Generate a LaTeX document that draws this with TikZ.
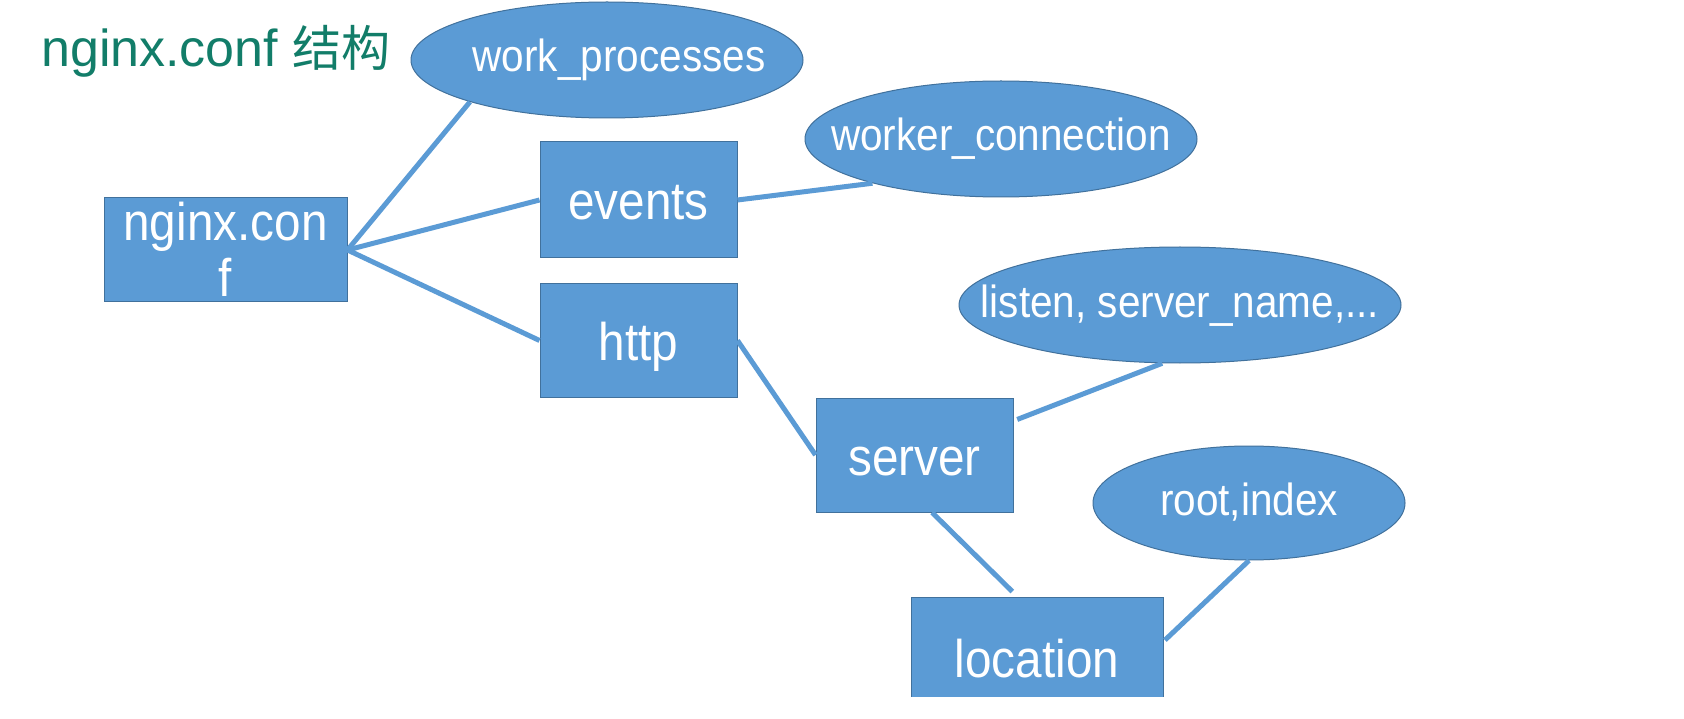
\documentclass[tikz,border=0pt]{standalone}
\usepackage{fontspec}
\setmainfont{Liberation Sans}
\newfontfamily\nfont[FakeStretch=0.9]{Liberation Sans}
\newfontfamily\cjk{Noto Sans CJK SC}
\usetikzlibrary{shapes.geometric,calc}
\definecolor{boxfill}{RGB}{91,155,213}
\definecolor{boxedge}{RGB}{65,113,156}
\definecolor{titlegreen}{RGB}{18,125,105}
\tikzset{
  box/.style={rectangle, draw=boxedge, line width=1pt, fill=boxfill, text=white,
    inner sep=0pt, font=\nfont\fontsize{53}{60}\selectfont, text height=40pt, text depth=0pt},
  oval/.style={ellipse, draw=boxedge, line width=1pt, fill=boxfill, text=white,
    inner sep=0pt, font=\nfont\fontsize{45}{52}\selectfont, text height=24pt, text depth=0pt},
  txt/.style={text=white, inner sep=0pt, font=\nfont\fontsize{53}{60}\selectfont},
  link/.style={draw=boxfill, line width=5pt},
}
\begin{document}
\begin{tikzpicture}[x=1pt,y=-1pt]
\useasboundingbox (0,0) rectangle (1684,719);
\fill[white] (0,0) rectangle (1684,719);

% title
\node[anchor=base west, inner sep=0pt, text=titlegreen, font=\fontsize{52}{60}\selectfont] (title) at (41,67) {nginx.conf {\cjk\fontsize{49}{60}\selectfont 结构}};

% ellipses
\node[oval, minimum width=392pt, minimum height=116pt] (wp) at (607,60) {\hspace*{24pt}\makebox[0pt]{work\_processes}};
\node[oval, minimum width=392pt, minimum height=116pt] (wc) at (1001,139) {\makebox[0pt]{worker\_connection}};
\node[oval, minimum width=442pt, minimum height=116pt] (listen) at (1180,305) {\makebox[0pt]{listen, server\_name,...}};
\node[oval, minimum width=312pt, minimum height=114pt] (root) at (1249,503) {\makebox[0pt]{root,index}};

% boxes
\node[box, minimum width=243pt, minimum height=104pt] (nginx) at (225.5,250) {};
\node[txt, anchor=base] (nginxA) at (225.5,241) {nginx.con};
\node[txt, anchor=base] (nginxB) at (225.5,297) {f};
\node[box, minimum width=197pt, minimum height=116pt] (events) at (638.5,200) {events};
\node[box, minimum width=197pt, minimum height=113pt] (http) at (638.5,340.5) {http};
\node[box, minimum width=197pt, minimum height=114pt] (server) at (914.5,455) {server};
\begin{scope}
\clip (0,0) rectangle (1684,696);
\node[box, minimum width=252pt, minimum height=120pt] (loc) at (1037,657) {location};
\end{scope}

% connectors
\draw[link] (nginx.east) -- (wp.197);
\draw[link] (nginx.east) -- (events.west);
\draw[link] (nginx.east) -- (http.west);
\draw[link] (events.east) -- (wc.199);
\draw[link] (http.east) -- (server.west);
\draw[link, shorten <=4pt] (server.19) -- (listen.253);
\draw[link, shorten >=7pt] (server.287) -- (loc.108);
\draw[link, shorten <=2pt] (loc.7) -- (root.south);
\end{tikzpicture}
\end{document}
